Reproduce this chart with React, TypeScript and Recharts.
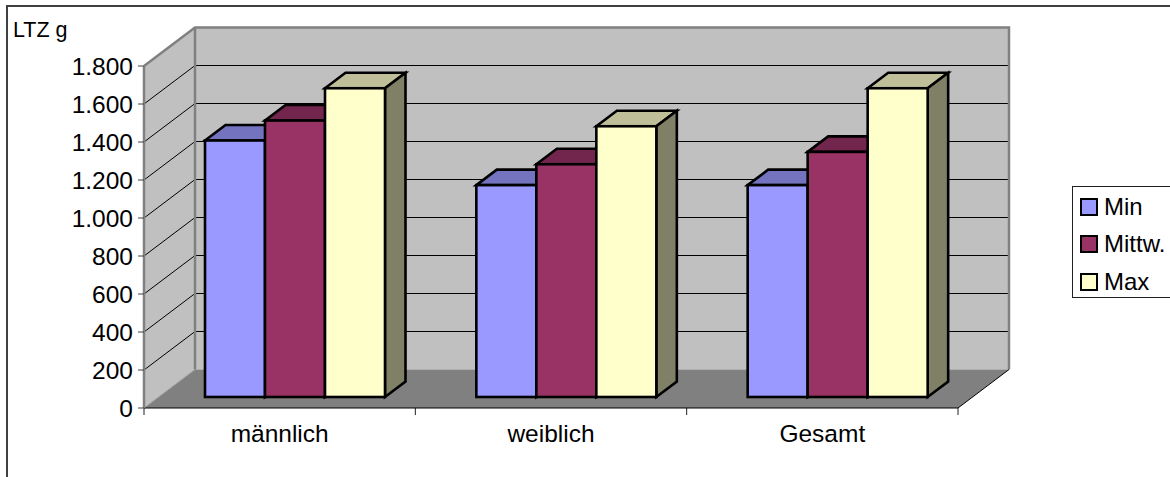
import { Bar, BarChart, Customized, Legend, XAxis, YAxis } from "recharts";

const categories = ["männlich", "weiblich", "Gesamt"];
const minValues = [1350, 1115, 1115];
const meanValues = [1455, 1225, 1290];
const maxValues = [1625, 1425, 1625];
const yTicks = [0, 200, 400, 600, 800, 1000, 1200, 1400, 1600, 1800];

const data = categories.map((name, i) => ({
  name,
  min: minValues[i],
  mean: meanValues[i],
  max: maxValues[i],
}));

const WIDTH = 1170;
const HEIGHT = 477;
const FONT = "'Liberation Sans', Arial, sans-serif";

// plot box of the front plane
const LEFT = 144;
const RIGHT = 958;
const TOP = 66;
const BOTTOM = 408;
// offset of the back wall from the front plane
const DEPTH_X = 51;
const DEPTH_Y = 38.5;
// bars stand in the middle of the floor
const BAR_SHIFT_X = 16;
const BAR_SHIFT_Y = 11;
const BAR_DEPTH_X = 20.5;
const BAR_DEPTH_Y = 15.5;

const frontY = (v: number) => BOTTOM - (v / 1800) * (BOTTOM - TOP);
const pts = (list: number[][]) => list.map((p) => p.join(",")).join(" ");

const num = (v: number) => (v >= 1000 ? `${Math.floor(v / 1000)}.${String(v % 1000).padStart(3, "0")}` : `${v}`);

function Walls() {
  const bl = DEPTH_X + LEFT;
  const br = DEPTH_X + RIGHT;
  const bt = TOP - DEPTH_Y;
  const bb = BOTTOM - DEPTH_Y;
  const catWidth = (RIGHT - LEFT) / categories.length;
  return (
    <g>
      <path d={`M7 ${HEIGHT} V6 H${WIDTH}`} fill="none" stroke="#404040" strokeWidth={2} />
      <polygon points={pts([[LEFT, TOP], [bl, bt], [bl, bb], [LEFT, BOTTOM]])} fill="#c0c0c0" />
      <rect x={bl} y={bt} width={br - bl} height={bb - bt} fill="#c0c0c0" />
      <polygon points={pts([[LEFT, BOTTOM], [RIGHT, BOTTOM], [br, bb], [bl, bb]])} fill="#808080" />
      {yTicks.slice(1, -1).map((v) => {
        const backY = Math.floor(frontY(v) - DEPTH_Y) + 0.5;
        return (
          <g key={v} fill="none">
            <line x1={LEFT} y1={frontY(v)} x2={bl} y2={backY} stroke="#000" strokeWidth={1} />
            <line x1={bl} y1={backY} x2={br} y2={backY} stroke="#000" strokeWidth={1} />
          </g>
        );
      })}
      <polyline
        points={pts([[LEFT, TOP], [bl, bt], [br, bt], [br, bb]])}
        fill="none"
        stroke="#808080"
        strokeWidth={2.5}
      />
      <line x1={bl} y1={bt} x2={bl} y2={bb} stroke="#808080" strokeWidth={2.5} />
      <line x1={LEFT} y1={BOTTOM} x2={bl} y2={bb} stroke="#a0a0a0" strokeWidth={1} />
      <line x1={RIGHT} y1={BOTTOM} x2={br} y2={bb} stroke="#000" strokeWidth={1} />
      {[0, 1, 2, 3].map((i) => (
        <line
          key={i}
          x1={LEFT + i * catWidth}
          y1={BOTTOM}
          x2={LEFT + i * catWidth}
          y2={BOTTOM + 7}
          stroke="#202020"
          strokeWidth={1}
        />
      ))}
      <text x={13} y={37} fontFamily={FONT} fontSize={21.5} fill="#000">
        LTZ g
      </text>
    </g>
  );
}

// front, top and side faces of one column
function Column(props: any) {
  const { x, y, width, height, fill, topFill, sideFill } = props;
  const fx = x + BAR_SHIFT_X;
  const fy = y - BAR_SHIFT_Y;
  const r = fx + width;
  const b = fy + height;
  return (
    <g stroke="#000" strokeWidth={2.6} strokeLinejoin="miter">
      <polygon
        points={pts([[fx, fy], [fx + BAR_DEPTH_X, fy - BAR_DEPTH_Y], [r + BAR_DEPTH_X, fy - BAR_DEPTH_Y], [r, fy]])}
        fill={topFill}
      />
      <polygon
        points={pts([[r, fy], [r + BAR_DEPTH_X, fy - BAR_DEPTH_Y], [r + BAR_DEPTH_X, b - BAR_DEPTH_Y], [r, b]])}
        fill={sideFill}
      />
      <rect x={fx} y={fy} width={width} height={height} fill={fill} />
    </g>
  );
}

// the box runs off the right edge, so it has no right border
function LegendBox({ payload }: any) {
  return (
    <div
      style={{
        width: 98,
        height: 112,
        boxSizing: "border-box",
        border: "1px solid #202020",
        borderRight: "none",
        background: "#fff",
        fontFamily: FONT,
        fontSize: 24,
        position: "relative",
      }}
    >
      {(payload ?? []).map((item: any, i: number) => (
        <div key={item.value} style={{ position: "absolute", left: 7, top: 9.5 + i * 37.5, height: 20, display: "flex", alignItems: "center" }}>
          <span
            style={{
              width: 18,
              height: 18,
              boxSizing: "border-box",
              border: "2.5px solid #000",
              background: item.color,
              marginRight: 6,
            }}
          />
          <span style={{ lineHeight: "20px" }}>{item.value}</span>
        </div>
      ))}
    </div>
  );
}

export default function App() {
  return (
    <div style={{ position: "absolute", left: 0, top: 0, width: WIDTH, height: HEIGHT, background: "#fff" }}>
      <BarChart
        width={WIDTH}
        height={HEIGHT}
        data={data}
        margin={{ top: TOP, right: WIDTH - RIGHT, bottom: 29, left: 0 }}
        barCategoryGap={45}
        barGap={0}
      >
        <Customized component={<Walls />} />
        <XAxis
          dataKey="name"
          height={40}
          axisLine={{ stroke: "#000", strokeWidth: 1 }}
          tickLine={false}
          tickMargin={11}
          tick={{ fontFamily: FONT, fontSize: 24.5, fill: "#000" }}
        />
        <YAxis
          width={LEFT}
          domain={[0, 1800]}
          ticks={yTicks}
          interval={0}
          tickFormatter={num}
          axisLine={{ stroke: "#808080", strokeWidth: 2.5 }}
          tickLine={{ stroke: "#404040" }}
          tickSize={6}
          tickMargin={5}
          tick={{ fontFamily: FONT, fontSize: 24.5, fill: "#000" }}
        />
        <Legend
          layout="vertical"
          align="center"
          verticalAlign="middle"
          itemSorter={null}
          content={<LegendBox />}
          wrapperStyle={{ left: 1072, top: 186, width: 98, height: 112 }}
        />
        <Bar
          dataKey="min"
          name="Min"
          fill="#9999ff"
          isAnimationActive={false}
          shape={<Column topFill="#7373bf" sideFill="#4d4d80" />}
        />
        <Bar
          dataKey="mean"
          name="Mittw."
          fill="#993366"
          isAnimationActive={false}
          shape={<Column topFill="#73264d" sideFill="#4d1a33" />}
        />
        <Bar
          dataKey="max"
          name="Max"
          fill="#ffffcc"
          isAnimationActive={false}
          shape={<Column topFill="#bfbf99" sideFill="#808066" />}
        />
      </BarChart>
    </div>
  );
}
